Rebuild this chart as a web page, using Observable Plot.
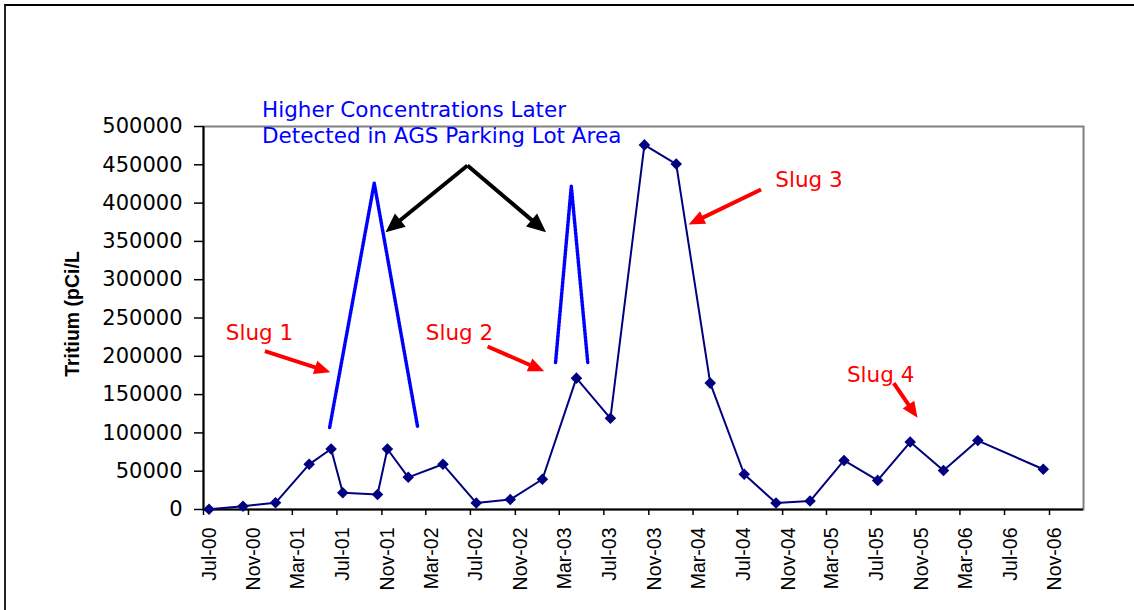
<!DOCTYPE html>
<html>
<head>
<meta charset="utf-8">
<script src="https://cdn.jsdelivr.net/npm/d3@7"></script>
<script src="https://cdn.jsdelivr.net/npm/@observablehq/plot@0.6"></script>
<style>
  html, body { margin: 0; padding: 0; background: #fff; overflow: hidden; }
  #wrap { position: relative; width: 1134px; height: 610px; }
  #border { position: absolute; left: 4px; top: 4px; width: 1132px; height: 620px;
            border-top: 2px solid #000; border-left: 2px solid #222; pointer-events: none; }
</style>
</head>
<body>
<div id="wrap"><div id="border"></div></div>
<script>
// ---- Data ----
const sampleDates = [
  "2000-07-16","2000-10-17","2001-01-14","2001-04-16","2001-06-15","2001-07-17",
  "2001-10-20","2001-11-16","2002-01-12","2002-04-17","2002-07-17","2002-10-18",
  "2003-01-14","2003-04-17","2003-07-19","2003-10-20","2004-01-15","2004-04-17",
  "2004-07-19","2004-10-14","2005-01-15","2005-04-18","2005-07-19","2005-10-16",
  "2006-01-15","2006-04-19","2006-10-15"
];
const tritium = [
  200, 4300, 8700, 59000, 79000, 22000,
  19500, 79000, 42000, 59000, 8600, 13000,
  39500, 171500, 119000, 476000, 451000, 165000,
  46000, 8500, 11000, 64000, 38000, 88000,
  51000, 90000, 52500
];

// Dotted "higher concentrations later detected" spikes
const spike1Dates = ["2001-06-11","2001-10-11","2002-02-07"];
const spike1Values = [107000, 426000, 107000];
const spike2Dates = ["2003-02-19","2003-04-03","2003-05-18"];
const spike2Values = [192000, 422000, 192000];

// Axes
const xDomainDates = ["2000-07-01","2007-02-02"];
const yDomain = [0, 500000];
const xTickLabels = ["Jul-00","Nov-00","Mar-01","Jul-01","Nov-01","Mar-02","Jul-02","Nov-02",
  "Mar-03","Jul-03","Nov-03","Mar-04","Jul-04","Nov-04","Mar-05","Jul-05","Nov-05","Mar-06","Jul-06","Nov-06"];
const yTicks = [0,50000,100000,150000,200000,250000,300000,350000,400000,450000,500000];
const yTitle = "Tritium (pCi/L";

// Annotations
const slugLabels = ["Slug 1","Slug 2","Slug 3","Slug 4"];
const slugLabelDates = ["2000-08-31","2002-03-01","2004-10-12","2005-04-26"];
const slugLabelValues = [221500, 221500, 420800, 166200];
const slugArrowFromDates = ["2000-12-16","2002-08-17","2004-09-03","2005-09-01"];
const slugArrowFromValues = [206700, 212800, 417800, 164900];
const slugArrowToDates = ["2001-06-13","2003-01-19","2004-02-18","2005-11-05"];
const slugArrowToValues = [179200, 180500, 372100, 119700];

const noteText = "Higher Concentrations Later\nDetected in AGS Parking Lot Area";
const noteDate = "2000-12-08";
const noteValue = 478200;
const noteArrowFromDate = "2002-06-23";
const noteArrowFromValue = 449100;
const noteArrowToDates = ["2001-11-11","2003-01-24"];
const noteArrowToValues = [362000, 362000];

// ---- Build tables ----
const D = s => new Date(s);
const parseTick = d3.utcParse("%b-%y");
const xTicks = xTickLabels.map(parseTick);
const samples = sampleDates.map((d, i) => ({date: D(d), value: tritium[i]}));
const spikes = [
  ...spike1Dates.map((d, i) => ({g: 1, date: D(d), value: spike1Values[i]})),
  ...spike2Dates.map((d, i) => ({g: 2, date: D(d), value: spike2Values[i]}))
];
const slugNotes = slugLabels.map((t, i) => ({text: t, date: D(slugLabelDates[i]), value: slugLabelValues[i]}));
const slugArrows = slugLabels.map((t, i) => ({
  x1: D(slugArrowFromDates[i]), y1: slugArrowFromValues[i],
  x2: D(slugArrowToDates[i]), y2: slugArrowToValues[i]
}));
const noteArrows = noteArrowToDates.map((d, i) => ({
  x1: D(noteArrowFromDate), y1: noteArrowFromValue, x2: D(d), y2: noteArrowToValues[i]
}));

// Arrow with a filled triangular head (shaft via Plot.arrow, head added in render)
function filledArrow(data, color, width, headLen, headHalf) {
  return Plot.arrow(data, {
    x1: "x1", y1: "y1", x2: "x2", y2: "y2",
    stroke: color, strokeWidth: width, headLength: 0, insetEnd: headLen * 0.7,
    strokeLinecap: "butt",
    render(index, scales, values, dimensions, context, next) {
      const g = next(index, scales, values, dimensions, context);
      const {x1: X1, y1: Y1, x2: X2, y2: Y2} = values;
      for (const i of index) {
        const dx = X2[i] - X1[i], dy = Y2[i] - Y1[i];
        const len = Math.hypot(dx, dy);
        const ux = dx / len, uy = dy / len;
        const bx = X2[i] - ux * headLen, by = Y2[i] - uy * headLen;
        const px = -uy * headHalf, py = ux * headHalf;
        const poly = document.createElementNS("http://www.w3.org/2000/svg", "polygon");
        poly.setAttribute("points", `${X2[i]},${Y2[i]} ${bx + px},${by + py} ${bx - px},${by - py}`);
        poly.setAttribute("fill", color);
        poly.setAttribute("stroke", "none");
        g.appendChild(poly);
      }
      return g;
    }
  });
}

const chart = Plot.plot({
  width: 1134,
  height: 610,
  marginTop: 126,
  marginRight: 51,
  marginBottom: 101,
  marginLeft: 203,
  style: {background: "transparent", fontFamily: "DejaVu Sans", overflow: "visible"},
  x: {type: "utc", domain: xDomainDates.map(D)},
  y: {domain: yDomain},
  marks: [
    Plot.frame({stroke: "#808080", strokeWidth: 2}),
    Plot.ruleY([yDomain[0]], {stroke: "#000", strokeWidth: 2}),
    Plot.ruleX([D(xDomainDates[0])], {stroke: "#000", strokeWidth: 2}),
    Plot.axisY({ticks: yTicks, tickFormat: d3.format("d"), tickSize: 9, tickPadding: 12,
      fontSize: 21, fontFamily: "DejaVu Sans", label: null, strokeWidth: 1.5}),
    Plot.axisX({ticks: xTicks, tickFormat: () => "", tickSize: 6, label: null, strokeWidth: 1.5}),
    Plot.text(xTicks, {x: d => d, frameAnchor: "bottom", text: d3.utcFormat("%b-%y"),
      rotate: -90, textAnchor: "end", lineAnchor: "bottom", dx: 12, dy: 18,
      fontSize: 19.5, fontFamily: "Liberation Sans", fill: "#000"}),
    Plot.text([yTitle], {frameAnchor: "left", text: d => d, rotate: -90, textAnchor: "middle",
      lineAnchor: "bottom", dx: -125, dy: -4, fontSize: 19.5, fontWeight: "bold",
      fontFamily: "Liberation Sans", fill: "#000"}),
    Plot.line(spikes, {x: "date", y: "value", z: "g", stroke: "#0000ff", strokeWidth: 3.5,
      strokeDasharray: "2,1.6"}),
    Plot.line(samples, {x: "date", y: "value", stroke: "#000080", strokeWidth: 2}),
    Plot.dot(samples, {x: "date", y: "value", symbol: "diamond2", r: 5.2, fill: "#000080", stroke: "none"}),
    filledArrow(noteArrows, "#000", 4, 19, 8.5),
    filledArrow(slugArrows, "#ff0000", 4, 16, 7),
    Plot.text(slugNotes, {x: "date", y: "value", text: "text", textAnchor: "start", lineAnchor: "bottom",
      fill: "#ff0000", fontSize: 21.5, fontFamily: "DejaVu Sans"}),
    Plot.text([noteText], {x: () => D(noteDate), y: () => noteValue, text: d => d, textAnchor: "start",
      lineAnchor: "bottom", lineHeight: 1.24, fill: "#0000ff", fontSize: 21.5, fontFamily: "DejaVu Sans"})
  ]
});
document.getElementById("wrap").prepend(chart);
</script>
</body>
</html>
